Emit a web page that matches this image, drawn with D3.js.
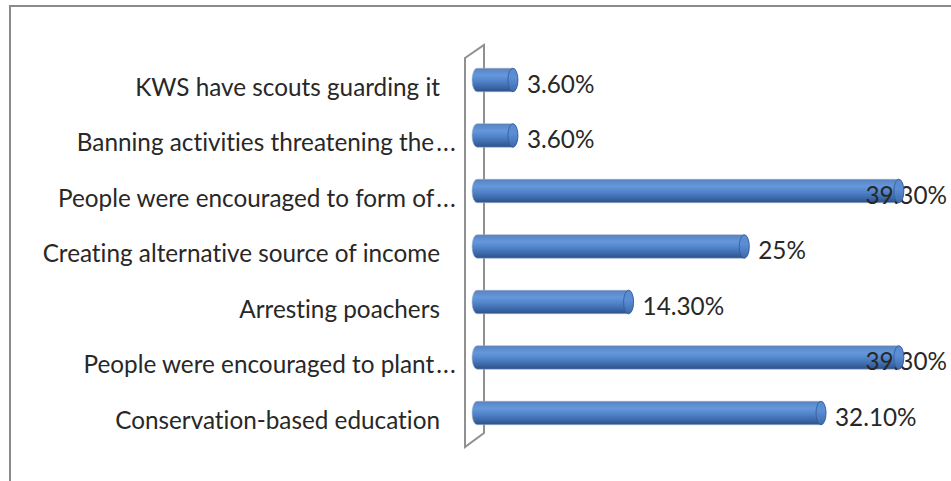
<!DOCTYPE html>
<html>
<head>
<meta charset="utf-8">
<script src="https://cdn.jsdelivr.net/npm/d3@7"></script>
<style>
  html, body { margin: 0; padding: 0; background: #fff; }
  svg { display: block; }
  text { font-family: Lato, "Liberation Sans", sans-serif; fill: #282828; font-variant-ligatures: none; }
</style>
</head>
<body>
<svg id="chart" width="951" height="481"></svg>
<script>
// Measures taken to protect the forest (share of respondents)
const categories = [
  "KWS have scouts guarding it",
  "Banning activities threatening the...",
  "People were encouraged to form of...",
  "Creating alternative source of income",
  "Arresting poachers",
  "People were encouraged to plant...",
  "Conservation-based education"
];
const values = [3.6, 3.6, 39.3, 25, 14.3, 39.3, 32.1];
const valueDomain = [0, 40];

const W = 951, H = 481;
const svg = d3.select("#chart");

const fmt = v => Number.isInteger(v) ? v + "%" : v.toFixed(2) + "%";

// scales
const x = d3.scaleLinear().domain(valueDomain).range([474, 474 + 432.4]);
const y = d3.scalePoint().domain(categories).range([80, 413]);
const barH = 23.5;
const capRx = 5;
const depth = 3;   // left end sits a little right of the axis origin
const fontSize = 24.3;

// gradients for the cylinder body and its end face
const defs = svg.append("defs");
const body = defs.append("linearGradient").attr("id", "cyl")
  .attr("x1", 0).attr("y1", 0).attr("x2", 0).attr("y2", 1);
[
  [0, "#4a74ae"], [0.07, "#5b89c8"], [0.3, "#6597dc"],
  [0.55, "#5183c8"], [0.82, "#3a66a6"], [1, "#2b5089"]
].forEach(([o, c]) => body.append("stop").attr("offset", o).attr("stop-color", c));
const face = defs.append("linearGradient").attr("id", "face")
  .attr("x1", 0).attr("y1", 0).attr("x2", 0).attr("y2", 1);
[
  [0, "#5a8ace"], [0.4, "#5c8ed6"], [1, "#3d69aa"]
].forEach(([o, c]) => face.append("stop").attr("offset", o).attr("stop-color", c));

// chart frame (runs past the right and bottom edges)
svg.append("rect")
  .attr("x", 10).attr("y", 6).attr("width", W + 20).attr("height", H + 20)
  .attr("fill", "none").attr("stroke", "#8a8a8a").attr("stroke-width", 2);

// back wall seen edge-on
svg.append("polygon")
  .attr("points", [[465, 58], [484, 45], [484, 433], [465, 447]].map(p => p.join(",")).join(" "))
  .attr("fill", "none").attr("stroke", "#909090").attr("stroke-width", 2);

// category labels; shortened ones let their dots run toward the wall
const catLabels = svg.append("g").selectAll("text").data(categories).join("text")
  .attr("x", d => d.endsWith("...") ? 457 : 440)
  .attr("y", d => y(d) + 15.5)
  .attr("text-anchor", "end")
  .attr("font-size", fontSize);
catLabels.each(function (d) {
  const t = d3.select(this);
  if (d.endsWith("...")) {
    t.append("tspan").text(d.slice(0, -3));
    t.append("tspan").attr("dx", 2).attr("letter-spacing", 1.2).text("...");
  } else {
    t.text(d);
  }
});

const rows = categories.map((c, i) => ({ c, v: values[i] }));

// cylinder bodies
const bars = svg.append("g");
bars.selectAll("path").data(rows).join("path")
  .attr("d", d => {
    const x0 = x(0) + depth, x1 = x(d.v);
    const t = y(d.c) - barH / 2, b = y(d.c) + barH / 2, r = barH / 2;
    return `M${x1},${t} L${x0},${t} A${capRx},${r} 0 0 0 ${x0},${b} L${x1},${b} A${capRx},${r} 0 0 0 ${x1},${t} Z`;
  })
  .attr("fill", "url(#cyl)")
  .attr("stroke", "#a9b9cf").attr("stroke-width", 0.6);

// value labels, pulled inside the frame when they would run off
const labels = svg.append("g").selectAll("text").data(rows).join("text")
  .attr("y", d => y(d.c) + 12.5)
  .attr("font-size", fontSize)
  .text(d => fmt(d.v));
labels.attr("x", function (d) {
  const w = this.getComputedTextLength();
  return Math.min(x(d.v) + capRx + 9, W - 4 - w);
});

// end faces drawn last
svg.append("g").selectAll("ellipse").data(rows).join("ellipse")
  .attr("cx", d => x(d.v))
  .attr("cy", d => y(d.c))
  .attr("rx", capRx).attr("ry", barH / 2)
  .attr("fill", "url(#face)")
  .attr("stroke", "#2f5b98").attr("stroke-width", 0.8);
</script>
</body>
</html>
